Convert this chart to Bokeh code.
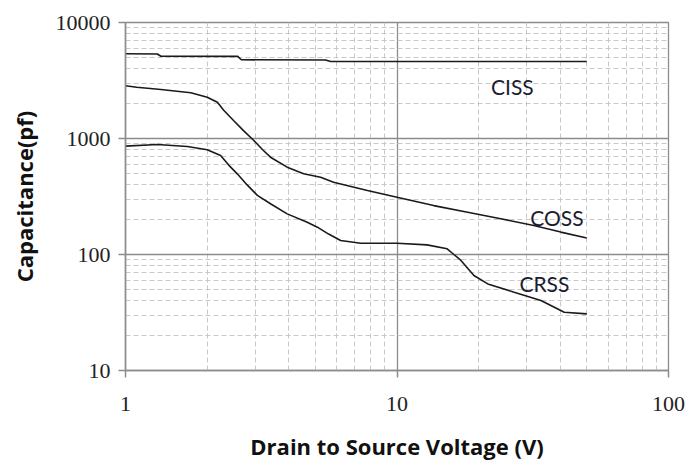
from bokeh.plotting import figure
from bokeh.models import FixedTicker, NumeralTickFormatter, ColumnDataSource
from bokeh.core.properties import value
from bokeh.embed import file_html
from bokeh.resources import INLINE

# Drain-to-source voltage (V) and capacitances (pF)
ciss_v = [1.0, 1.31, 1.35, 2.59, 2.67, 5.46, 5.7, 50.0]
ciss_c = [5370, 5350, 5120, 5100, 4770, 4750, 4610, 4610]

coss_v = [1.0, 1.10, 1.35, 1.74, 2.0, 2.18, 2.3, 2.5, 2.72, 2.97, 3.2, 3.42,
          3.94, 4.53, 5.23, 5.84, 7.78, 10.0, 13.65, 18.2, 24.1, 31.9, 40.1, 50.0]
coss_c = [2846, 2770, 2645, 2477, 2270, 2055, 1750, 1429, 1170, 961, 800, 690,
          566, 497, 464, 420, 356, 312, 264, 231, 203, 178, 156, 139]

crss_v = [1.0, 1.31, 1.69, 2.0, 2.24, 2.4, 2.58, 2.8, 3.06, 3.42, 3.94, 4.67,
          5.09, 5.6, 6.2, 7.35, 10.0, 12.9, 15.3, 16.2, 17.2, 19.2, 21.6, 27.0,
          33.9, 41.3, 50.0]
crss_c = [859, 888, 853, 799, 713, 590, 496, 400, 323, 274, 224, 190,
          172, 150, 132, 125, 125, 121, 112, 100, 88.8, 65.9, 55.8, 47.3,
          40.1, 31.8, 30.8]

label_text = ["CISS", "COSS", "CRSS"]
label_v = [26.6, 38.8, 34.9]
label_c = [2818, 210, 55.9]

x_ticks = [1, 10, 100]
x_minor = [2, 3, 4, 5, 6, 7, 8, 9, 20, 30, 40, 50, 60, 70, 80, 90]
y_ticks = [10, 100, 1000, 10000]
y_minor = [m * d for d in (10, 100, 1000) for m in range(2, 10)]

p = figure(x_axis_type="log", y_axis_type="log",
           x_range=(1, 100), y_range=(10, 10000),
           frame_width=543, frame_height=348,
           min_border_left=125, min_border_top=22,
           min_border_right=24, min_border_bottom=93,
           output_backend="svg", toolbar_location=None,
           background_fill_color="white", border_fill_color="white")

p.outline_line_color = "#8c8c8c"
p.outline_line_width = 1.3

xt = FixedTicker(ticks=x_ticks, minor_ticks=x_minor)
yt = FixedTicker(ticks=y_ticks, minor_ticks=y_minor)
p.xaxis.ticker = xt
p.yaxis.ticker = yt
p.xgrid.ticker = xt
p.ygrid.ticker = yt

for g in (p.xgrid, p.ygrid):
    g.grid_line_color = "#8c8c8c"
    g.grid_line_width = 1.3
    g.minor_grid_line_color = "#c8c8c8"
    g.minor_grid_line_width = 1
    g.minor_grid_line_dash = "5 3"

for ax in (p.xaxis, p.yaxis):
    ax.formatter = NumeralTickFormatter(format="0")
    ax.axis_line_color = "#8c8c8c"
    ax.axis_line_width = 1.5
    ax.major_tick_line_color = "#8c8c8c"
    ax.major_tick_line_width = 1.5
    ax.major_tick_out = 7
    ax.major_tick_in = 0
    ax.minor_tick_line_color = None
    ax.major_label_text_font = "Liberation Serif"
    ax.major_label_text_font_size = "22px"
    ax.major_label_text_color = "#222222"
    ax.axis_label_text_font = "Open Sans"
    ax.axis_label_text_font_style = "bold"
    ax.axis_label_text_font_size = "22px"
    ax.axis_label_text_color = "#111111"

p.yaxis.major_label_standoff = 8
p.yaxis.axis_label = "Capacitance(pf)"
p.yaxis.axis_label_standoff = 14
p.xaxis.major_label_standoff = 19
p.xaxis.axis_label = "Drain to Source Voltage (V)"
p.xaxis.axis_label_standoff = 17

for xs, ys in ((ciss_v, ciss_c), (coss_v, coss_c), (crss_v, crss_c)):
    p.line(xs, ys, line_color="#1a1a1a", line_width=1.6)

src = ColumnDataSource(dict(x=label_v, y=label_c, t=label_text))
p.text(x="x", y="y", text="t", source=src, text_font=value("Lato"),
       text_font_size="21px", text_color="#1c1c30",
       text_align="center", text_baseline="middle")

open("out.html", "w").write(file_html(p, INLINE))
